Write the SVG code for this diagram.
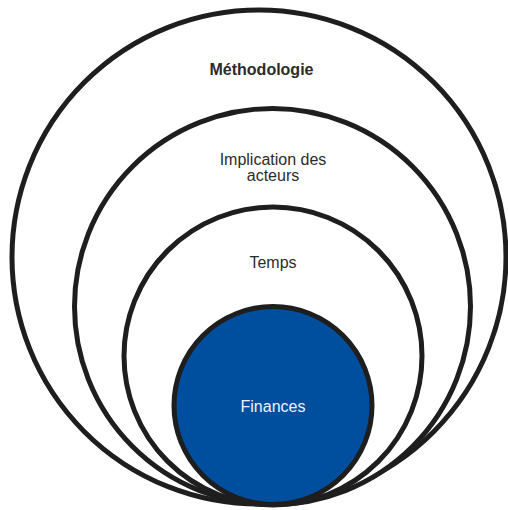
<svg xmlns="http://www.w3.org/2000/svg" width="508" height="510" viewBox="0 0 508 510">
<style>
.ring{fill:#ffffff;stroke:#1e1e1e;stroke-width:5}
.core{fill:#004f9f;stroke:#1e1e1e;stroke-width:5}
.lbl{font-family:"Liberation Sans",Arial,sans-serif;font-size:16px;fill:#2b2b2b;text-anchor:middle}
.bold{font-weight:bold}
.white{fill:#f2f2f2}
</style>
<rect width="508" height="510" fill="#ffffff"/>
<g id="methodologie">
<circle class="ring" cx="259" cy="257" r="247"/>
<text class="lbl bold" x="261.5" y="75">Méthodologie</text>
</g>
<g id="implication">
<circle class="ring" cx="272.5" cy="306.5" r="198"/>
<text class="lbl" x="273" y="165">Implication des</text>
<text class="lbl" x="273" y="180.5">acteurs</text>
</g>
<g id="temps">
<circle class="ring" cx="273" cy="356" r="149"/>
<text class="lbl" x="273" y="268">Temps</text>
</g>
<g id="finances">
<circle class="core" cx="273" cy="405.5" r="99"/>
<text class="lbl white" x="273" y="412">Finances</text>
</g>
<g id="connectors"/>
</svg>
